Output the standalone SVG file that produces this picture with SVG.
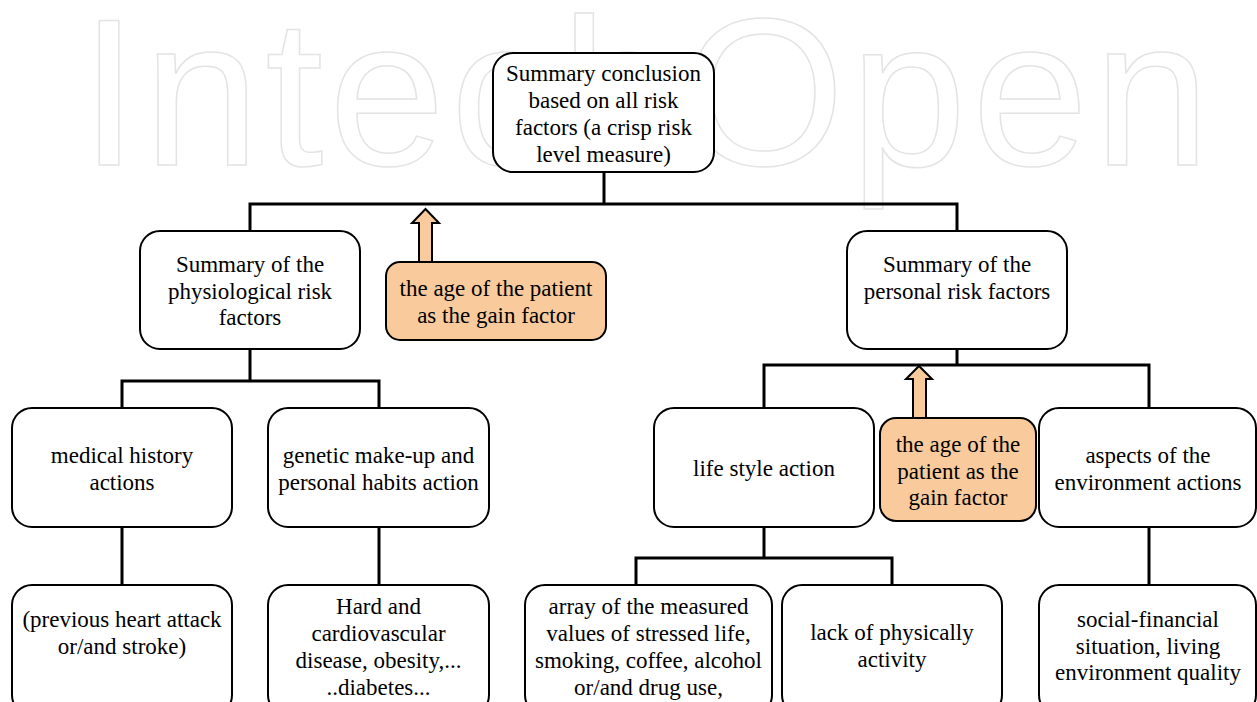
<svg xmlns="http://www.w3.org/2000/svg" width="1257" height="702" viewBox="0 0 1257 702">
  <style>
    .box { fill: #ffffff; stroke: #000000; stroke-width: 2; }
    .gain { fill: #f9cb9c; stroke: #000000; stroke-width: 2; }
    .lbl { font-family: "Liberation Serif", "Times New Roman", serif; font-size: 23px; fill: #000000; text-anchor: middle; }
    .wire { fill: none; stroke: #000000; stroke-width: 3; stroke-linecap: square; }
    .mark { font-family: "Liberation Sans", Arial, sans-serif; font-size: 209px; fill: none; stroke: #e4e4e4; stroke-width: 1.5; }
  </style>

  <rect width="1257" height="702" fill="#ffffff"/>

  <!-- faint background wordmark -->
  <text class="mark" x="80" y="165" textLength="1130" lengthAdjust="spacing">IntechOpen</text>

  <!-- tree connectors -->
  <g id="connectors">
    <path class="wire" d="M604,172 V204 M250,204 H957 M250,204 V231 M957,204 V231"/>
    <path class="wire" d="M250,349 V381 M122,381 H379 M122,381 V408 M379,381 V408"/>
    <path class="wire" d="M957,349 V365 M764,365 H1149 M764,365 V408 M1149,365 V408"/>
    <path class="wire" d="M122,527 V585 M379,527 V585 M1149,527 V585"/>
    <path class="wire" d="M764,527 V558 M636,558 H892 M636,558 V585 M892,558 V585"/>
    <!-- gain factor block arrows -->
    <path class="gain" d="M419,262 V223 H412 L425.5,209 L439,223 H432 V262 Z"/>
    <path class="gain" d="M913,418 V379 H906 L919,366 L932,379 H926 V418 Z"/>
  </g>

  <g id="summary">
    <rect class="box" x="493" y="53" width="221" height="119" rx="20"/>
    <text class="lbl"><tspan x="603.5" y="81">Summary conclusion</tspan><tspan x="603.5" y="108">based on all risk</tspan><tspan x="603.5" y="135">factors (a crisp risk</tspan><tspan x="603.5" y="162">level measure)</tspan></text>
  </g>

  <g id="physiological">
    <rect class="box" x="140" y="231" width="220" height="118" rx="20"/>
    <text class="lbl"><tspan x="250" y="272">Summary of the</tspan><tspan x="250" y="299">physiological risk</tspan><tspan x="250" y="325">factors</tspan></text>
  </g>

  <g id="gain-physiological">
    <rect class="gain" x="386" y="262" width="220" height="78" rx="14"/>
    <text class="lbl"><tspan x="496" y="296">the age of the patient</tspan><tspan x="496" y="323">as the gain factor</tspan></text>
  </g>

  <g id="personal">
    <rect class="box" x="847" y="231" width="220" height="118" rx="20"/>
    <text class="lbl"><tspan x="957" y="272">Summary of the</tspan><tspan x="957" y="299">personal risk factors</tspan></text>
  </g>

  <g id="medical-history">
    <rect class="box" x="12" y="408" width="220" height="119" rx="20"/>
    <text class="lbl"><tspan x="122" y="463">medical history</tspan><tspan x="122" y="490">actions</tspan></text>
  </g>

  <g id="genetic">
    <rect class="box" x="268" y="408" width="221" height="119" rx="20"/>
    <text class="lbl"><tspan x="378.5" y="463">genetic make-up and</tspan><tspan x="378.5" y="490">personal habits action</tspan></text>
  </g>

  <g id="life-style">
    <rect class="box" x="654" y="408" width="220" height="119" rx="20"/>
    <text class="lbl" x="764" y="476">life style action</text>
  </g>

  <g id="gain-personal">
    <rect class="gain" x="880" y="418" width="156" height="103" rx="16"/>
    <text class="lbl"><tspan x="958" y="452">the age of the</tspan><tspan x="958" y="479">patient as the</tspan><tspan x="958" y="505">gain factor</tspan></text>
  </g>

  <g id="environment">
    <rect class="box" x="1039" y="408" width="217" height="119" rx="20"/>
    <text class="lbl"><tspan x="1148" y="463">aspects of the</tspan><tspan x="1148" y="490">environment actions</tspan></text>
  </g>

  <g id="previous-events">
    <rect class="box" x="12" y="585" width="220" height="130" rx="20"/>
    <text class="lbl"><tspan x="122" y="627">(previous heart attack</tspan><tspan x="122" y="654">or/and stroke)</tspan></text>
  </g>

  <g id="diseases">
    <rect class="box" x="268" y="585" width="221" height="130" rx="20"/>
    <text class="lbl"><tspan x="378.5" y="614">Hard and</tspan><tspan x="378.5" y="641">cardiovascular</tspan><tspan x="378.5" y="668">disease, obesity,...</tspan><tspan x="378.5" y="695">..diabetes...</tspan></text>
  </g>

  <g id="measured-values">
    <rect class="box" x="525" y="585" width="247" height="130" rx="20"/>
    <text class="lbl"><tspan x="648.5" y="614">array of the measured</tspan><tspan x="648.5" y="641">values of stressed life,</tspan><tspan x="648.5" y="668">smoking, coffee, alcohol</tspan><tspan x="648.5" y="695">or/and drug  use,</tspan></text>
  </g>

  <g id="physical-activity">
    <rect class="box" x="782" y="585" width="220" height="130" rx="20"/>
    <text class="lbl"><tspan x="892" y="640">lack of physically</tspan><tspan x="892" y="667">activity</tspan></text>
  </g>

  <g id="social-financial">
    <rect class="box" x="1039" y="585" width="217" height="130" rx="20"/>
    <text class="lbl"><tspan x="1148" y="627">social-financial</tspan><tspan x="1148" y="654">situation, living</tspan><tspan x="1148" y="680">environment quality</tspan></text>
  </g>
</svg>
